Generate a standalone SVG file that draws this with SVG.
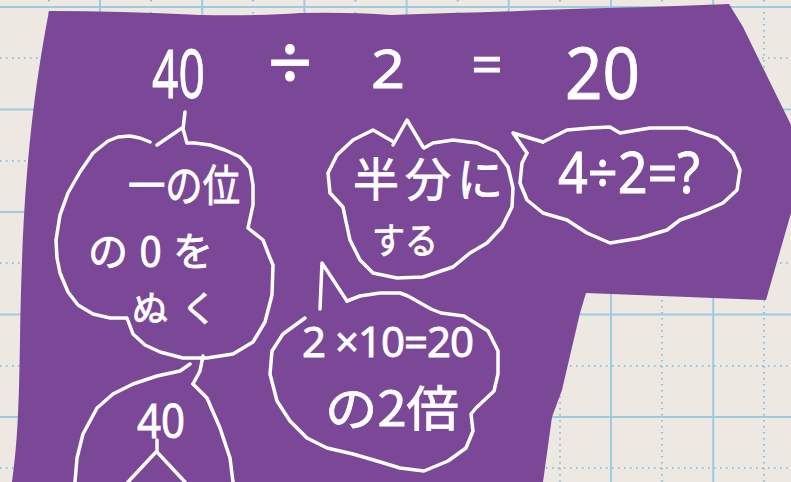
<svg xmlns="http://www.w3.org/2000/svg" width="791" height="482" viewBox="0 0 791 482">
<style>
.bg{fill:#EDE9E2}
.gs{stroke:#9DCBE0;stroke-width:2;fill:none}
.gd{stroke:#8EC3DB;stroke-width:2;stroke-dasharray:1.5 4.5;fill:none}
.board{fill:#7B4797}
.ch{stroke:#FFFFFF;stroke-width:3.5;fill:none;stroke-linecap:round;stroke-linejoin:round}
.t{fill:#FFFFFF;stroke:#FFFFFF;stroke-width:0.8;font-family:"Noto Sans","Noto Sans CJK JP",sans-serif}
.j{fill:#FFFFFF;stroke:#FFFFFF;stroke-width:0.8;font-family:"Noto Sans CJK JP","Noto Sans",sans-serif}
</style>
<rect class="bg" x="0" y="0" width="791" height="482"/>
<g id="grid">
<path class="gd" d="M49,0V482M151,0V482M253,0V482M355.5,0V482M457.7,0V482M560,0V482M662,0V482M764,0V482M0,58H791M0,161H791M0,263H791M0,366H791M0,468H791"/>
<path class="gs" d="M100,0V482M202.2,0V482M304.4,0V482M406.6,0V482M508.8,0V482M611,0V482M713.2,0V482M0,7H791M0,109.5H791M0,212H791M0,314.5H791M0,417H791"/>
</g>
<path id="board" class="board" d="M49,11 Q120,11 200,15 Q260,16 300,13 Q350,12 391,15 Q420,14 451,13 Q500,12 541,10 Q600,8 650,7 L729,4 L743,27 L791,125 L791,213 L766,300 L586,293 L580,313 L562,390 L552,417 L543,482 L12,482 C18,440 19,400 20,340 C22,200 30,110 49,11 Z"/>
<g id="equation">
<text class="t" x="152" y="98" font-size="68" textLength="53" lengthAdjust="spacingAndGlyphs">40</text>
<text class="t" x="290" y="91" font-size="78" text-anchor="middle">÷</text>
<text class="t" x="371" y="88" font-size="52" textLength="34" lengthAdjust="spacingAndGlyphs">2</text>
<text class="t" x="487" y="84" font-size="55" text-anchor="middle">=</text>
<text class="t" x="565" y="99" font-size="72" textLength="75" lengthAdjust="spacingAndGlyphs">20</text>
</g>
<g id="connectors">
<path class="ch" d="M157,145 L182,128 M185,112 L183,129 L187,143"/>
<path class="ch" d="M203,356 L200,371 L193,384"/>
<path class="ch" d="M393,145 L407,120 L423,147"/>
<path class="ch" d="M543,142 L513,133 L527,153"/>
<path class="ch" d="M320,309 L322,263 L347,301"/>
<path class="ch" d="M157,440 L157,452 M156,452 L128,482 M157,452 L185,482"/>
</g>
<g id="bubble-ichinokurai">
<path class="ch" d="M150,142 L140,138 L130,136 L118,137 L108,141 L93,153 L80,172 L68,193 L60,215 L56,240 L57,258 L60,273 L68,292 L78,305 L93,314 L110,318 L127,318 L133,334 L145,345 L160,352 L183,358 L207,358 L233,354 L253,342 L265,322 L272,295 L273,265 L270,258 L263,240 L248,228 L253,205 L253,185 L250,168 L240,157 L225,150 L210,145 L195,143 L188,143"/>
<text class="j" x="128" y="202" font-size="44" textLength="112" lengthAdjust="spacingAndGlyphs">一の位</text>
<text class="j" x="88" y="266" font-size="40" textLength="125" lengthAdjust="spacing">の0を</text>
<text class="j" x="132" y="322" font-size="36" textLength="85" lengthAdjust="spacing">ぬく</text>
</g>
<g id="bubble-40">
<path class="ch" d="M193,384 L207,398 L220,428 L230,458 L233,482"/>
<path class="ch" d="M190,364 L180,371 L157,376 L133,384 L113,394 L97,408 L83,434 L77,458 L75,482"/>
<text class="t" x="137" y="438" font-size="48" textLength="48" lengthAdjust="spacingAndGlyphs">40</text>
</g>
<g id="bubble-hanbun">
<path class="ch" d="M392,141 L373,130 L353,140 L337,155 L328,173 L330,193 L343,207 L345,217 L350,240 L360,260 L373,273 L397,278 L423,277 L453,267 L470,253 L487,243 L502,227 L512,207 L513,188 L508,167 L497,152 L477,143 L453,140 L433,143 L424,148"/>
<text class="j" x="353" y="196" font-size="46" textLength="150" lengthAdjust="spacing">半分に</text>
<text class="j" x="372" y="254" font-size="36" textLength="66" lengthAdjust="spacingAndGlyphs">する</text>
</g>
<g id="bubble-question">
<path class="ch" d="M543,142 L567,130 L590,128 L610,127 L620,133 L650,128 L687,128 L717,138 L733,153 L740,170 L737,190 L723,203 L700,213 L680,220 L667,230 L640,238 L610,243 L587,233 L567,220 L543,213 L527,200 L520,183 L522,163 L527,153"/>
<text class="t" x="558" y="193" font-size="56" textLength="142" lengthAdjust="spacingAndGlyphs">4÷2=?</text>
</g>
<g id="bubble-baisu">
<path class="ch" d="M347,301 L360,296 L380,293 L400,293 L408,296 L431,309 L441,313 L464,316 L488,331 L498,351 L498,374 L494,391 L476,408 L471,414 L473,431 L466,448 L448,461 L424,471 L400,468 L377,461 L353,454 L327,448 L307,438 L290,421 L277,401 L270,374 L272,351 L283,334 L305,318"/>
<text class="t" x="302" y="357" font-size="42" textLength="172" lengthAdjust="spacing">2 ×10=20</text>
<text class="j" x="325" y="426" font-size="48" textLength="134" lengthAdjust="spacingAndGlyphs">の2倍</text>
</g>
</svg>
